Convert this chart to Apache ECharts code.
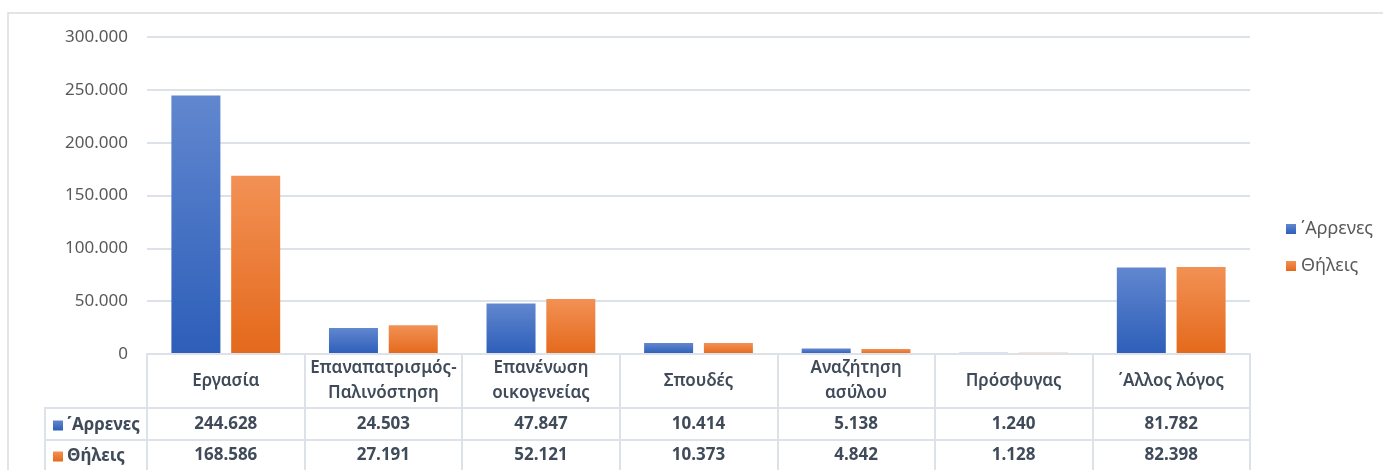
<!DOCTYPE html>
<html>
<head>
<meta charset="utf-8">
<script src="https://cdn.jsdelivr.net/npm/echarts@6/dist/echarts.min.js"></script>
<style>
  html, body { margin: 0; padding: 0; background: #fff; }
  #main { width: 1383px; height: 470px; }
</style>
</head>
<body>
<div id="main"></div>
<script>
// δεδομένα
var categories = ['Εργασία', 'Επαναπατρισμός-\nΠαλινόστηση', 'Επανένωση\nοικογενείας', 'Σπουδές', 'Αναζήτηση\nασύλου', 'Πρόσφυγας', '΄Αλλος λόγος'];
var maleName = '΄Αρρενες';
var femaleName = 'Θήλεις';
var maleValues = [244628, 24503, 47847, 10414, 5138, 1240, 81782];
var femaleValues = [168586, 27191, 52121, 10373, 4842, 1128, 82398];
var yTicks = [0, 50000, 100000, 150000, 200000, 250000, 300000];

function fmt(n) {
    return String(n).replace(/\B(?=(\d{3})+(?!\d))/g, '.');
}

var lineCol = '#dde1e8';
var txt = '#595959';
var tableTxt = '#404b5a';
var font = 'Noto Sans';
var fs = 17;

var blue = new echarts.graphic.LinearGradient(0, 0, 0, 1, [
    { offset: 0, color: '#6187cf' }, { offset: 1, color: '#2d5eb9' }
]);
var orange = new echarts.graphic.LinearGradient(0, 0, 0, 1, [
    { offset: 0, color: '#f29155' }, { offset: 1, color: '#e4691b' }
]);

var myChart = echarts.init(document.getElementById('main'));

function tableAxis(offset, tickLen, margin, formatter, weight) {
    return {
        type: 'category',
        position: 'bottom',
        offset: offset,
        z: 3,
        data: categories,
        boundaryGap: true,
        axisLine: { show: true, lineStyle: { color: lineCol, width: 2 } },
        axisTick: { show: true, interval: 0, length: tickLen, lineStyle: { color: lineCol, width: 2 } },
        axisLabel: {
            interval: 0,
            margin: margin,
            verticalAlign: 'middle',
            color: tableTxt,
            fontFamily: font,
            fontSize: fs,
            fontWeight: weight,
            lineHeight: 25,
            formatter: formatter
        },
        splitLine: { show: false }
    };
}

var option = {
    animation: false,
    textStyle: { fontFamily: font },
    grid: { left: 147, right: 133, top: 37, bottom: 116 },
    legend: [{
        data: [maleName, femaleName],
        orient: 'vertical',
        left: 1281,
        top: 215,
        icon: 'rect',
        itemWidth: 10,
        itemHeight: 10,
        itemGap: 19,
        textStyle: { color: txt, fontSize: 18, fontFamily: font }
    }, {
        data: [maleName],
        left: 48,
        top: 412,
        icon: 'rect',
        itemWidth: 10,
        itemHeight: 10,
        selectedMode: false,
        textStyle: { color: tableTxt, fontSize: fs, fontWeight: 'bold', fontFamily: font, padding: [0, 0, 0, -1] }
    }, {
        data: [femaleName],
        left: 48,
        top: 443,
        icon: 'rect',
        itemWidth: 10,
        itemHeight: 10,
        selectedMode: false,
        textStyle: { color: tableTxt, fontSize: fs, fontWeight: 'bold', fontFamily: font, padding: [0, 0, 0, -1] }
    }],
    xAxis: [
        tableAxis(0, 54, 27, function (v) { return v; }, 600),
        tableAxis(54, 32, 16, function (v, i) { return fmt(maleValues[i]); }, 'bold'),
        tableAxis(86, 32, 15, function (v, i) { return fmt(femaleValues[i]); }, 'bold')
    ],
    yAxis: {
        type: 'value',
        min: yTicks[0],
        max: yTicks[yTicks.length - 1],
        interval: yTicks[1] - yTicks[0],
        axisLine: { show: false },
        axisTick: { show: false },
        axisLabel: {
            color: txt,
            fontSize: fs,
            fontFamily: font,
            margin: 19,
            formatter: function (v) { return fmt(v); }
        },
        splitLine: { lineStyle: { color: lineCol, width: 2 } }
    },
    series: [{
        name: maleName,
        type: 'bar',
        data: maleValues,
        barWidth: 49,
        barGap: '22%',
        itemStyle: { color: blue }
    }, {
        name: femaleName,
        type: 'bar',
        data: femaleValues,
        barWidth: 49,
        itemStyle: { color: orange }
    }],
    graphic: [{
        type: 'rect',
        silent: true,
        shape: { x: 8, y: 13, width: 1500, height: 500 },
        style: { fill: 'none', stroke: '#dcdcdc', lineWidth: 1.5 }
    }, {
        type: 'polyline',
        silent: true,
        shape: { points: [[147, 408], [45, 408], [45, 472]] },
        style: { fill: 'none', stroke: lineCol, lineWidth: 2 }
    }, {
        type: 'line',
        silent: true,
        shape: { x1: 45, y1: 440, x2: 147, y2: 440 },
        style: { stroke: lineCol, lineWidth: 2 }
    }]
};

myChart.setOption(option);
</script>
</body>
</html>
